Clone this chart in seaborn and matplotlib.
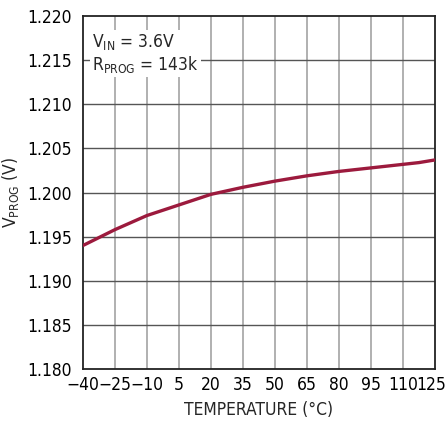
import matplotlib
matplotlib.use("Agg")
import matplotlib.pyplot as plt
from matplotlib import font_manager
from matplotlib.transforms import ScaledTranslation
import seaborn as sns
import pandas as pd

# Program-pin voltage versus temperature
temperature = [-40, -32.5, -25, -17.5, -10, -2.5, 5, 20, 35, 50, 65, 80, 95,
               110, 117.5, 125]
v_prog = [1.1940, 1.1949, 1.1958, 1.1966, 1.1974, 1.1980, 1.1986, 1.1998,
          1.2006, 1.2013, 1.2019, 1.2024, 1.2028, 1.2032, 1.2034, 1.2037]

x_ticks = [-40, -25, -10, 5, 20, 35, 50, 65, 80, 95, 110, 125]
x_tick_labels = ["\u221240", "\u221225", "\u221210", "5", "20", "35", "50",
                 "65", "80", "95", "110", "125"]
y_ticks = [1.180, 1.185, 1.190, 1.195, 1.200, 1.205, 1.210, 1.215, 1.220]
y_tick_labels = ["1.180", "1.185", "1.190", "1.195", "1.200", "1.205",
                 "1.210", "1.215", "1.220"]

sns.set_theme(style="white")

# prefer a narrow sans face when one is installed
fonts = [(f.name, str(f.stretch)) for f in font_manager.fontManager.ttflist]
names = {n for n, _ in fonts}
family, stretch = "Liberation Sans", "normal"
if "Liberation Sans Narrow" in names:
    family = "Liberation Sans Narrow"
elif any(n == "DejaVu Sans" and s in ("condensed", "semi-condensed", "500") for n, s in fonts):
    family, stretch = "DejaVu Sans", "condensed"
plt.rcParams["font.family"] = [family, "DejaVu Sans"]
plt.rcParams["font.stretch"] = stretch
plt.rcParams["mathtext.fontset"] = "custom"
plt.rcParams["mathtext.rm"] = family

df = pd.DataFrame({"temp": temperature, "v": v_prog})

fig = plt.figure(figsize=(4.46, 4.23), dpi=100)
ax = fig.add_axes([0.186, 0.1277, 0.789, 0.834])

# grid: light vertical lines, darker horizontal lines
for xt in x_ticks[1:-1]:
    ax.axvline(xt, color="#aaaaaa", lw=1.3, zorder=0)
for yt in y_ticks[1:-1]:
    ax.axhline(yt, color="#555555", lw=1.0, zorder=0)

sns.lineplot(data=df, x="temp", y="v", ax=ax, color="#9c1a3d", lw=2.4, zorder=3)

ax.set_xlim(-40, 125)
ax.set_ylim(1.180, 1.220)
ax.set_xticks(x_ticks)
ax.set_xticklabels(x_tick_labels)
ax.set_yticks(y_ticks)
ax.set_yticklabels(y_tick_labels)
ax.tick_params(axis="both", length=0, labelsize=12.5, colors="black")
ax.tick_params(axis="x", pad=5)
ax.tick_params(axis="y", pad=8)
for s in ax.spines.values():
    s.set_color("#222222")
    s.set_linewidth(1.3)

# keep the last temperature label inside the figure edge
last = ax.get_xticklabels()[-1]
last.set_transform(last.get_transform() + ScaledTranslation(-4 / 100, 0, fig.dpi_scale_trans))

ax.set_xlabel("TEMPERATURE (\u00b0C)", fontsize=12.5, labelpad=5)
ax.set_ylabel(r"V$_{\mathregular{PROG}}$ (V)", fontsize=12.5, labelpad=4)

ax.text(0.025, 0.955, "V$_{\\mathregular{IN}}$ = 3.6V\nR$_{\\mathregular{PROG}}$ = 143k",
        transform=ax.transAxes, ha="left", va="top", fontsize=12.5,
        linespacing=1.1,
        bbox=dict(facecolor="white", edgecolor="none", pad=1.5), zorder=4)

fig.savefig("out.png", dpi=100)
